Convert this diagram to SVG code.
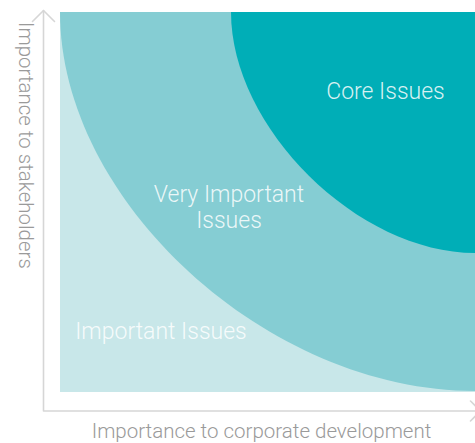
<svg xmlns="http://www.w3.org/2000/svg" width="475" height="443" viewBox="0 0 475 443">
  <style>
    .axis { fill: none; stroke: #d6d6d6; stroke-width: 1.6; stroke-linecap: round; stroke-linejoin: round; }
    .axislabel { font-family: Roboto, "Liberation Sans", sans-serif; font-weight: 300; font-size: 20.5px; fill: #9a9a9a; }
    .zonelabel { font-family: Roboto, "Liberation Sans", sans-serif; font-weight: 300; font-size: 23px; fill: #ffffff; fill-opacity: 0.85; text-anchor: middle; }
  </style>
  <rect width="475" height="443" fill="#ffffff"/>
  <g id="important-zone">
    <rect x="60" y="12" width="415" height="380" fill="#c8e7e9"/>
  </g>
  <g id="very-important-zone">
    <path d="M60,12 L475,12 L475,391 C267.5,391 60,201.5 60,12 Z" fill="#85cdd3"/>
  </g>
  <g id="core-zone">
    <path d="M231,12 L475,12 L475,253 C358,253 231,128 231,12 Z" fill="#00aeb7"/>
  </g>
  <g id="connectors">
    <path class="axis" d="M43.5,10.5 V411 H480"/>
    <polyline class="axis" points="32.5,21.5 43.5,10.5 54.5,21.5"/>
    <polyline class="axis" points="470.5,401 480.5,411 470.5,421"/>
  </g>
  <g id="labels">
    <text class="zonelabel" x="385.5" y="98.5">Core Issues</text>
    <text class="zonelabel" x="229" y="201.5">Very Important</text>
    <text class="zonelabel" x="229" y="228">Issues</text>
    <text class="zonelabel" x="161" y="338.5">Important Issues</text>
    <text class="axislabel" x="261.5" y="437.5" text-anchor="middle">Importance to corporate development</text>
    <text class="axislabel" transform="translate(19,22) rotate(90)" x="0" y="0">Importance to stakeholders</text>
  </g>
</svg>
